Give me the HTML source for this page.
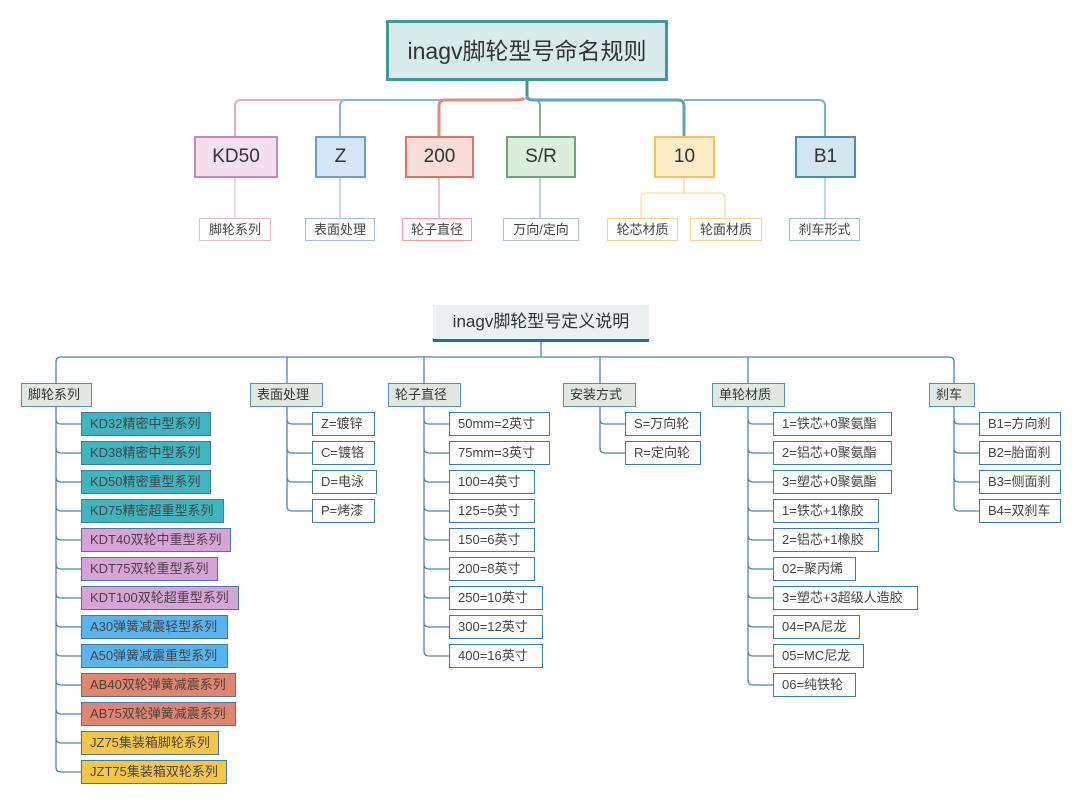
<!DOCTYPE html>
<html><head><meta charset="utf-8">
<style>
body{margin:0;background:#fff;width:1080px;height:803px;position:relative;overflow:hidden;font-family:"Liberation Sans","Noto Sans CJK SC",sans-serif;color:#333}
div{position:absolute;box-sizing:border-box;white-space:nowrap}
.t{border:2px solid;text-align:center;font-size:19px;color:#333}
.l{border:1px solid;height:23px;line-height:21px;font-size:13px;text-align:center;background:#fff;color:#444}
.c{height:24px;line-height:22px;font-size:13px;background:#dfe9e3;border:1px solid #5a8fb0;padding-left:6px;color:#333}
.i{height:24px;line-height:22px;font-size:13px;border:1px solid #3d7da3;padding-left:8px;background:#fff;color:#444}
.tl{background:#3fb5bf}.pk{background:#d9a3d8}.bl{background:#5ab5ee}.rd{background:#e08670}.yl{background:#f8c646}
</style></head><body>
<svg width="1080" height="803" style="position:absolute;left:0;top:0" fill="none">
<path d="M527 80 V96" stroke="#3d9a9a" stroke-width="3"/>
<path d="M527 96 Q527 100 520 100 H241 Q235 100 235 106 V136" stroke="#e6a9c8" stroke-width="2"/>
<path d="M520 100 H346 Q340 100 340 106 V136" stroke="#8bb5e0" stroke-width="2"/>
<path d="M524 98 Q522 100 515 100 H445 Q439 100 439 106 V136" stroke="#e48a7a" stroke-width="3"/>
<path d="M530 100 H534 Q540 100 540 106 V136" stroke="#86b08a" stroke-width="2"/>
<path d="M527 96 Q527 100 534 100 H678 Q684 100 684 106 V136" stroke="#5aa5c0" stroke-width="3"/>
<path d="M684 100 H819 Q825 100 825 106 V136" stroke="#7ab0d0" stroke-width="2"/>
<path d="M235 177 V218" stroke="#e6a9c8"/><path d="M340 177 V218" stroke="#8bb5e0"/>
<path d="M439 177 V218" stroke="#e48a7a"/><path d="M540 177 V218" stroke="#86b08a"/>
<path d="M684 177 V193 M641 218 V198 Q641 193 646 193 H720 Q725 193 725 198 V218" stroke="#f2d38a"/>
<path d="M825 177 V218" stroke="#7ab0d0"/>
<g stroke="#4d86ad" stroke-width="1.3">
<path d="M541 342 V357 M56 383 V362 Q56 357 61 357 H949 Q954 357 954 362 V383 M287 357 V383 M424 357 V383 M600 357 V383 M748 357 V383"/>
<path d="M56 406 V767 Q56 772 61 772 H81"/>
<path d="M56 419 Q56 424 61 424 H81 M56 448 Q56 453 61 453 H81 M56 477 Q56 482 61 482 H81 M56 506 Q56 511 61 511 H81 M56 535 Q56 540 61 540 H81 M56 564 Q56 569 61 569 H81 M56 593 Q56 598 61 598 H81 M56 622 Q56 627 61 627 H81 M56 651 Q56 656 61 656 H81 M56 680 Q56 685 61 685 H81 M56 709 Q56 714 61 714 H81 M56 738 Q56 743 61 743 H81"/>
<path d="M287 406 V506 Q287 511 292 511 H312 M287 419 Q287 424 292 424 H312 M287 448 Q287 453 292 453 H312 M287 477 Q287 482 292 482 H312"/>
<path d="M424 406 V651 Q424 656 429 656 H449 M424 419 Q424 424 429 424 H449 M424 448 Q424 453 429 453 H449 M424 477 Q424 482 429 482 H449 M424 506 Q424 511 429 511 H449 M424 535 Q424 540 429 540 H449 M424 564 Q424 569 429 569 H449 M424 593 Q424 598 429 598 H449 M424 622 Q424 627 429 627 H449"/>
<path d="M600 406 V448 Q600 453 605 453 H625 M600 419 Q600 424 605 424 H625"/>
<path d="M748 406 V680 Q748 685 753 685 H773 M748 419 Q748 424 753 424 H773 M748 448 Q748 453 753 453 H773 M748 477 Q748 482 753 482 H773 M748 506 Q748 511 753 511 H773 M748 535 Q748 540 753 540 H773 M748 564 Q748 569 753 569 H773 M748 593 Q748 598 753 598 H773 M748 622 Q748 627 753 627 H773 M748 651 Q748 656 753 656 H773"/>
<path d="M954 406 V506 Q954 511 959 511 H979 M954 419 Q954 424 959 424 H979 M954 448 Q954 453 959 453 H979 M954 477 Q954 482 959 482 H979"/>
</g>
</svg>

<div class="t" style="left:386px;top:20px;width:282px;height:61px;line-height:57px;background:#d6ebea;border:3px solid #3f9a9c;font-size:23px">inagv脚轮型号命名规则</div>
<div class="t" style="left:194px;top:136px;width:84px;height:42px;line-height:38px;background:#f4dff0;border-color:#c78ab8">KD50</div>
<div class="t" style="left:315px;top:136px;width:51px;height:42px;line-height:38px;background:#d5e6f8;border-color:#6f9fd0">Z</div>
<div class="t" style="left:405px;top:136px;width:69px;height:42px;line-height:38px;background:#f8dcd6;border-color:#d8766a">200</div>
<div class="t" style="left:506px;top:136px;width:70px;height:42px;line-height:38px;background:#dcefdc;border-color:#70a478">S/R</div>
<div class="t" style="left:654px;top:136px;width:61px;height:42px;line-height:38px;background:#fdecc8;border-color:#efc35e">10</div>
<div class="t" style="left:795px;top:136px;width:61px;height:42px;line-height:38px;background:#d3e6ef;border-color:#4d8cae">B1</div>

<div class="l" style="left:199px;top:218px;width:72px;border-color:#e6b9d6">脚轮系列</div>
<div class="l" style="left:305px;top:218px;width:70px;border-color:#9fc1e6">表面处理</div>
<div class="l" style="left:402px;top:218px;width:70px;border-color:#e9a89b">轮子直径</div>
<div class="l" style="left:503px;top:218px;width:76px;border-color:#a8c8ab">万向/定向</div>
<div class="l" style="left:607px;top:218px;width:71px;border-color:#f3d590">轮芯材质</div>
<div class="l" style="left:690px;top:218px;width:72px;border-color:#f3d590">轮面材质</div>
<div class="l" style="left:789px;top:218px;width:71px;border-color:#9cc0d6">刹车形式</div>

<div style="left:433px;top:305px;width:216px;height:34px;line-height:34px;background:#eaf1f1;text-align:center;font-size:17px;color:#333">inagv脚轮型号定义说明</div>
<div style="left:433px;top:339px;width:216px;height:3px;background:#1f6fb0"></div>

<div class="c" style="left:21px;top:383px;width:71px">脚轮系列</div>
<div class="c" style="left:250px;top:383px;width:73px">表面处理</div>
<div class="c" style="left:388px;top:383px;width:73px">轮子直径</div>
<div class="c" style="left:563px;top:383px;width:73px">安装方式</div>
<div class="c" style="left:712px;top:383px;width:73px">单轮材质</div>
<div class="c" style="left:929px;top:383px;width:46px">刹车</div>

<div class="i tl" style="left:81px;top:412px;width:130px">KD32精密中型系列</div>
<div class="i tl" style="left:81px;top:441px;width:130px">KD38精密中型系列</div>
<div class="i tl" style="left:81px;top:470px;width:130px">KD50精密重型系列</div>
<div class="i tl" style="left:81px;top:499px;width:143px">KD75精密超重型系列</div>
<div class="i pk" style="left:81px;top:528px;width:150px">KDT40双轮中重型系列</div>
<div class="i pk" style="left:81px;top:557px;width:137px">KDT75双轮重型系列</div>
<div class="i pk" style="left:81px;top:586px;width:158px">KDT100双轮超重型系列</div>
<div class="i bl" style="left:81px;top:615px;width:147px">A30弹簧减震轻型系列</div>
<div class="i bl" style="left:81px;top:644px;width:147px">A50弹簧减震重型系列</div>
<div class="i rd" style="left:81px;top:673px;width:155px">AB40双轮弹簧减震系列</div>
<div class="i rd" style="left:81px;top:702px;width:155px">AB75双轮弹簧减震系列</div>
<div class="i yl" style="left:81px;top:731px;width:138px">JZ75集装箱脚轮系列</div>
<div class="i yl" style="left:81px;top:760px;width:146px">JZT75集装箱双轮系列</div>

<div class="i" style="left:312px;top:412px;width:63px">Z=镀锌</div>
<div class="i" style="left:312px;top:441px;width:63px">C=镀铬</div>
<div class="i" style="left:312px;top:470px;width:65px">D=电泳</div>
<div class="i" style="left:312px;top:499px;width:63px">P=烤漆</div>

<div class="i" style="left:449px;top:412px;width:101px">50mm=2英寸</div>
<div class="i" style="left:449px;top:441px;width:101px">75mm=3英寸</div>
<div class="i" style="left:449px;top:470px;width:86px">100=4英寸</div>
<div class="i" style="left:449px;top:499px;width:86px">125=5英寸</div>
<div class="i" style="left:449px;top:528px;width:86px">150=6英寸</div>
<div class="i" style="left:449px;top:557px;width:86px">200=8英寸</div>
<div class="i" style="left:449px;top:586px;width:94px">250=10英寸</div>
<div class="i" style="left:449px;top:615px;width:94px">300=12英寸</div>
<div class="i" style="left:449px;top:644px;width:94px">400=16英寸</div>

<div class="i" style="left:625px;top:412px;width:76px">S=万向轮</div>
<div class="i" style="left:625px;top:441px;width:76px">R=定向轮</div>

<div class="i" style="left:773px;top:412px;width:119px">1=铁芯+0聚氨酯</div>
<div class="i" style="left:773px;top:441px;width:119px">2=铝芯+0聚氨酯</div>
<div class="i" style="left:773px;top:470px;width:119px">3=塑芯+0聚氨酯</div>
<div class="i" style="left:773px;top:499px;width:106px">1=铁芯+1橡胶</div>
<div class="i" style="left:773px;top:528px;width:106px">2=铝芯+1橡胶</div>
<div class="i" style="left:773px;top:557px;width:83px">02=聚丙烯</div>
<div class="i" style="left:773px;top:586px;width:145px">3=塑芯+3超级人造胶</div>
<div class="i" style="left:773px;top:615px;width:87px">04=PA尼龙</div>
<div class="i" style="left:773px;top:644px;width:91px">05=MC尼龙</div>
<div class="i" style="left:773px;top:673px;width:83px">06=纯铁轮</div>

<div class="i" style="left:979px;top:412px;width:82px">B1=方向刹</div>
<div class="i" style="left:979px;top:441px;width:82px">B2=胎面刹</div>
<div class="i" style="left:979px;top:470px;width:82px">B3=侧面刹</div>
<div class="i" style="left:979px;top:499px;width:82px">B4=双刹车</div>
</body></html>
